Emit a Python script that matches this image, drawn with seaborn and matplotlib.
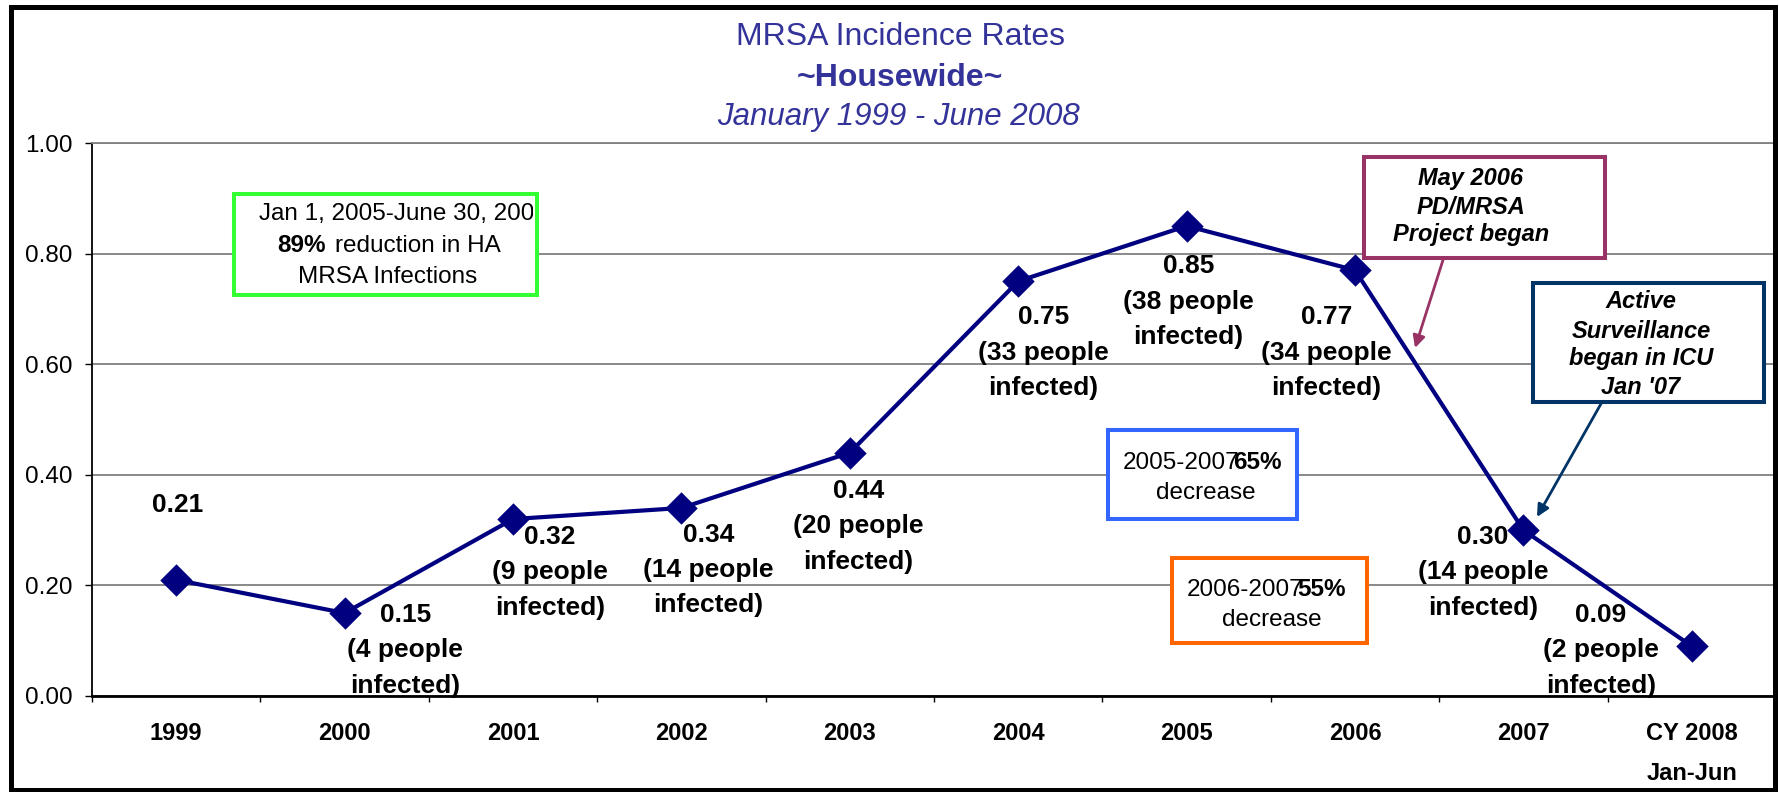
import numpy as np
import pandas as pd
import seaborn as sns
import matplotlib.pyplot as plt
from matplotlib.patches import Rectangle, FancyArrowPatch
from matplotlib.ticker import FormatStrFormatter

years = ['1999', '2000', '2001', '2002', '2003', '2004', '2005', '2006', '2007', 'CY 2008\nJan-Jun']
rates = [0.21, 0.15, 0.32, 0.34, 0.44, 0.75, 0.85, 0.77, 0.30, 0.09]
people = [None, 4, 9, 14, 20, 33, 38, 34, 14, 2]
# where each data label sits relative to its point (category units, rate units)
label_dx = [0.01, 0.36, 0.22, 0.16, 0.05, 0.15, 0.01, -0.17, -0.24, -0.54]
label_dy = [0.136, -0.003, -0.032, -0.048, -0.069, -0.065, -0.073, -0.085, -0.012, 0.057]
yticks = [0.0, 0.2, 0.4, 0.6, 0.8, 1.0]

W, H = 1779, 792
NAVY = '#000080'
TITLE = '#333399'

sns.set_style('white')
plt.rcParams['font.family'] = ['Liberation Sans', 'DejaVu Sans']
plt.rcParams['text.color'] = 'black'
plt.rcParams['xtick.color'] = 'black'
plt.rcParams['ytick.color'] = 'black'

fig = plt.figure(figsize=(W / 100, H / 100), dpi=100)


def fx(px):
    return px / W


def fy(py):
    return 1 - py / H


ax = fig.add_axes([fx(92), fy(696), fx(1776) - fx(92), fy(143) - fy(696)])

df = pd.DataFrame({'year': years, 'rate': rates})
sns.pointplot(data=df, x='year', y='rate', color=NAVY, markers='D',
              markersize=14, linewidth=3, ax=ax, zorder=4)

ax.set_xlim(-0.5, len(years) - 0.5)
ax.set_ylim(0, 1)
ax.set_xlabel('')
ax.set_ylabel('')

# data labels
for i, (r, n) in enumerate(zip(rates, people)):
    lines = [f'{r:.2f}'] if n is None else [f'{r:.2f}', f'({n} people', 'infected)']
    for k, s in enumerate(lines):
        ax.annotate(s, (i + label_dx[i], r + label_dy[i]), xytext=(0, -25.5 * k),
                    textcoords='offset points', ha='center', va='center', color='black',
                    fontsize=19, fontweight='bold', annotation_clip=False, zorder=6)

# axes
ax.set_xticks(range(len(years)))
ax.set_xticklabels(years, fontweight='bold', fontsize=17, color='black')
for lbl in ax.get_xticklabels():
    lbl.set_linespacing(1.95)
ax.set_xticks(np.arange(-0.5, len(years)), minor=True)
ax.tick_params(axis='x', which='major', length=0, pad=19)
ax.tick_params(axis='x', which='minor', length=4.5, width=1, direction='out', color='black', bottom=True)

ax.set_yticks(yticks)
ax.yaxis.set_major_formatter(FormatStrFormatter('%.2f'))
ax.tick_params(axis='y', length=5, width=1, direction='out', pad=9, labelsize=17.5,
               color='black', labelcolor='black', left=True)

ax.grid(axis='y', color='#808080', lw=1.3)
ax.grid(axis='x', visible=False)
ax.set_axisbelow(True)
ax.spines['right'].set_visible(False)
ax.spines['top'].set_color('#808080')
ax.spines['top'].set_linewidth(1.3)
ax.spines['left'].set_color('black')
ax.spines['left'].set_linewidth(1.3)
ax.spines['bottom'].set_color('black')
ax.spines['bottom'].set_linewidth(2)

# titles
fig.text(fx(900), fy(37), 'MRSA Incidence Rates', ha='center', va='center', fontsize=23, color=TITLE)
fig.text(fx(900), fy(78), '~Housewide~', ha='center', va='center', fontsize=23,
         fontweight='bold', color=TITLE)
fig.text(fx(898), fy(117), 'January 1999 - June 2008', ha='center', va='center', fontsize=22.5,
         fontstyle='italic', color=TITLE)


def box(x0, y0, x1, y1, color, lw=2.9):
    r = Rectangle((fx(x0), fy(y1)), fx(x1) - fx(x0), fy(y0) - fy(y1), transform=fig.transFigure,
                  facecolor='white', edgecolor=color, lw=lw, zorder=5)
    fig.add_artist(r)
    return r


def say(x, y, s, ha='left', size=17.5, **kw):
    return fig.text(fx(x), fy(y), s, ha=ha, va='center', fontsize=size, zorder=6, color='black', **kw)


def arrow(p0, p1, color):
    fig.add_artist(FancyArrowPatch((fx(p0[0]), fy(p0[1])), (fx(p1[0]), fy(p1[1])),
                                   transform=fig.transFigure, arrowstyle='-|>', mutation_scale=18,
                                   color=color, lw=2, shrinkA=0, shrinkB=0, zorder=6))


# green note, first line runs past the box edge
box(234, 194, 537, 295, '#33FF33')
t = say(259, 214, 'Jan 1, 2005-June 30, 2008')
t.set_clip_path(Rectangle((fx(236), fy(293)), fx(533) - fx(236), fy(196) - fy(293),
                          transform=fig.transFigure))
say(277, 246, '89%', fontweight='bold')
say(335, 246, 'reduction in HA')
say(388, 277, 'MRSA Infections', ha='center')

# blue note
box(1108, 430, 1297, 519, '#3366FF')
say(1123, 463, '2005-2007')
say(1233, 463, '65%', fontweight='bold')
say(1206, 493, 'decrease', ha='center')

# orange note
box(1172, 558, 1367, 643, '#FF6600')
say(1187, 590, '2006-2007')
say(1297, 590, '55%', fontweight='bold')
say(1272, 620, 'decrease', ha='center')

# project note
box(1364, 157, 1605, 258, '#993366')
for yy, s in zip([179, 207, 235], ['May 2006', 'PD/MRSA', 'Project began']):
    say(1471, yy, s, ha='center', size=17, fontweight='bold', fontstyle='italic')
arrow((1443, 260), (1415, 348), '#993366')

# surveillance note
box(1533, 283, 1764, 402, '#003366')
for yy, s in zip([302, 331, 359, 387], ['Active', 'Surveillance', 'began in ICU', "Jan '07"]):
    say(1641, yy, s, ha='center', size=17, fontweight='bold', fontstyle='italic')
arrow((1602, 402), (1537, 517), '#003366')

# outer frame
fig.add_artist(Rectangle((fx(10.5), fy(790)), fx(1774.5) - fx(10.5), fy(6.5) - fy(790),
                         fill=False, edgecolor='black', lw=3.6, transform=fig.transFigure, zorder=20))

fig.savefig('out.png', dpi=100)
